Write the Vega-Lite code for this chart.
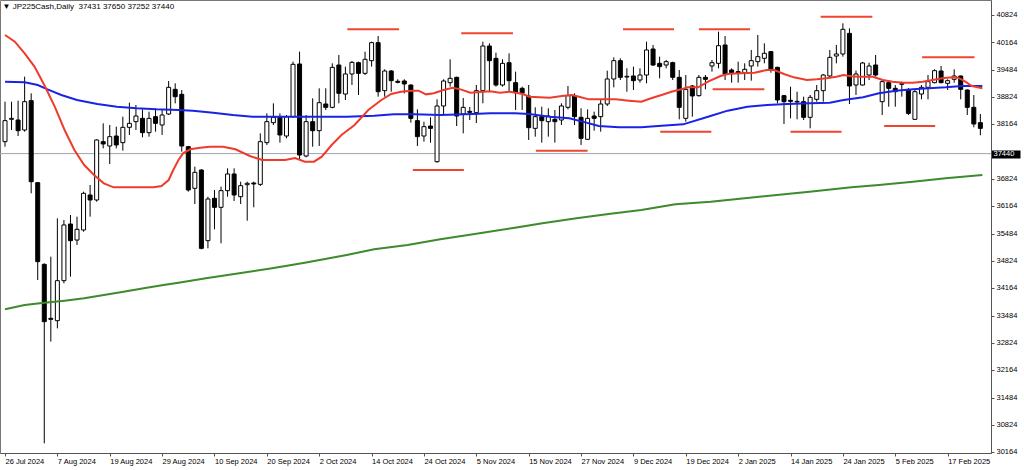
{
  "$schema": "https://vega.github.io/schema/vega-lite/v6.json",
  "width": 991,
  "height": 453,
  "autosize": {"type": "none"},
  "padding": {"left": 0, "top": 0, "right": 33, "bottom": 17},
  "background": "white",
  "title": {"text": "▼ JP225Cash,Daily\u00a0\u00a037431 37650 37252 37440", "anchor": "start", "orient": "top", "offset": -11, "dx": 3, "fontSize": 8, "fontWeight": "normal", "font": "Liberation Sans", "color": "#000"},
  "config": {"view": {"stroke": "#777"}},
  "resolve": {"axis": {"x": "independent", "y": "independent"}},
  "datasets": {
    "candles": [
      {"i":0,"o":37732,"h":38708,"l":37610,"c":38245},{"i":1,"o":38277,"h":38708,"l":38017,"c":38301},{"i":2,"o":38261,"h":38733,"l":37870,"c":38000},{"i":3,"o":38017,"h":39319,"l":37976,"c":38708},{"i":4,"o":38733,"h":38912,"l":36471,"c":36755},{"i":5,"o":36731,"h":36740,"l":34355,"c":34803},{"i":6,"o":34737,"h":34762,"l":30368,"c":33338},{"i":7,"o":33419,"h":34925,"l":32850,"c":33395},{"i":8,"o":33362,"h":35860,"l":33175,"c":34339},{"i":9,"o":34339,"h":35820,"l":34274,"c":35698},
      {"i":10,"o":35722,"h":35942,"l":34436,"c":35315},{"i":11,"o":35331,"h":35901,"l":35209,"c":35592},{"i":12,"o":35576,"h":36511,"l":35535,"c":36471},{"i":13,"o":36430,"h":36674,"l":35901,"c":36308},{"i":14,"o":36308,"h":37789,"l":36267,"c":37773},{"i":15,"o":37732,"h":38179,"l":37569,"c":37675},{"i":16,"o":37626,"h":38139,"l":37187,"c":37854},{"i":17,"o":37870,"h":38098,"l":37569,"c":37651},{"i":18,"o":37708,"h":38342,"l":37512,"c":38082},{"i":19,"o":38082,"h":38684,"l":37895,"c":38179},
      {"i":20,"o":38220,"h":38627,"l":38017,"c":38358},{"i":21,"o":38301,"h":38521,"l":37838,"c":37952},{"i":22,"o":37952,"h":38464,"l":37854,"c":38301},{"i":23,"o":38342,"h":38546,"l":37976,"c":38179},{"i":24,"o":38139,"h":38505,"l":37895,"c":38383},{"i":25,"o":38407,"h":39213,"l":38383,"c":39058},{"i":26,"o":39009,"h":39156,"l":38668,"c":38830},{"i":27,"o":38887,"h":38993,"l":37488,"c":37626},{"i":28,"o":37610,"h":37626,"l":36511,"c":36552},{"i":29,"o":36593,"h":37122,"l":36210,"c":36983},
      {"i":30,"o":37040,"h":37057,"l":35104,"c":35128},{"i":31,"o":35315,"h":36389,"l":35128,"c":36332},{"i":32,"o":36349,"h":36552,"l":35592,"c":36129},{"i":33,"o":36129,"h":36633,"l":35250,"c":36536},{"i":34,"o":36536,"h":37081,"l":36389,"c":36943},{"i":35,"o":36943,"h":37081,"l":36284,"c":36430},{"i":36,"o":36389,"h":36755,"l":36210,"c":36658},{"i":37,"o":36682,"h":36755,"l":35803,"c":36715},{"i":38,"o":36723,"h":36755,"l":36129,"c":36699},{"i":39,"o":36690,"h":37935,"l":36650,"c":37732},
      {"i":40,"o":37708,"h":38423,"l":37651,"c":38220},{"i":41,"o":38196,"h":38668,"l":38139,"c":38326},{"i":42,"o":38326,"h":38423,"l":37708,"c":37895},{"i":43,"o":37870,"h":38383,"l":37813,"c":38342},{"i":44,"o":38342,"h":39685,"l":38326,"c":39620},{"i":45,"o":39628,"h":39929,"l":37301,"c":37406},{"i":46,"o":37382,"h":38383,"l":37349,"c":38220},{"i":47,"o":38220,"h":38790,"l":37610,"c":38000},{"i":48,"o":38000,"h":39034,"l":37626,"c":38684},{"i":49,"o":38651,"h":39034,"l":38505,"c":38570},
      {"i":50,"o":38570,"h":39644,"l":38546,"c":39546},{"i":51,"o":39603,"h":39848,"l":38668,"c":38912},{"i":52,"o":38895,"h":39563,"l":38749,"c":39384},{"i":53,"o":39384,"h":39701,"l":39115,"c":39668},{"i":54,"o":39660,"h":39685,"l":38871,"c":39400},{"i":55,"o":39400,"h":39929,"l":39359,"c":39742},{"i":56,"o":39709,"h":40173,"l":39563,"c":40149},{"i":57,"o":40149,"h":40311,"l":38830,"c":38952},{"i":58,"o":38977,"h":39498,"l":38830,"c":39457},{"i":59,"o":39457,"h":39481,"l":38952,"c":39221},
      {"i":60,"o":39205,"h":39254,"l":39156,"c":39180},{"i":61,"o":39213,"h":39254,"l":38912,"c":39140},{"i":62,"o":39115,"h":39131,"l":38196,"c":38301},{"i":63,"o":38245,"h":38521,"l":37626,"c":37854},{"i":64,"o":37870,"h":38220,"l":37732,"c":38098},{"i":65,"o":38114,"h":38326,"l":37708,"c":38057},{"i":66,"o":37244,"h":38765,"l":37219,"c":38603},{"i":67,"o":38603,"h":39254,"l":38383,"c":39213},{"i":68,"o":39172,"h":39742,"l":39075,"c":39278},{"i":69,"o":39302,"h":39319,"l":38114,"c":38358},
      {"i":70,"o":38407,"h":38798,"l":37935,"c":38570},{"i":71,"o":38472,"h":38578,"l":38261,"c":38448},{"i":72,"o":38440,"h":39115,"l":38188,"c":38977},{"i":73,"o":38977,"h":40173,"l":38668,"c":40067},{"i":74,"o":40067,"h":40132,"l":38952,"c":39709},{"i":75,"o":39766,"h":39904,"l":39075,"c":39115},{"i":76,"o":39115,"h":39742,"l":39075,"c":39644},{"i":77,"o":39660,"h":39888,"l":38952,"c":39221},{"i":78,"o":39172,"h":39441,"l":38505,"c":38928},{"i":79,"o":39034,"h":39075,"l":38505,"c":38912},
      {"i":80,"o":38847,"h":39115,"l":37773,"c":38074},{"i":81,"o":38057,"h":38570,"l":37854,"c":38342},{"i":82,"o":38342,"h":38586,"l":37708,"c":38245},{"i":83,"o":38220,"h":38546,"l":37854,"c":38358},{"i":84,"o":38277,"h":38505,"l":37708,"c":38220},{"i":85,"o":38261,"h":38668,"l":38139,"c":38603},{"i":86,"o":38570,"h":39091,"l":38521,"c":38855},{"i":87,"o":38855,"h":38912,"l":38139,"c":38342},{"i":88,"o":38326,"h":38546,"l":37651,"c":37813},{"i":89,"o":37789,"h":38521,"l":37773,"c":38301},
      {"i":90,"o":38358,"h":38464,"l":38000,"c":38301},{"i":91,"o":38342,"h":38749,"l":37976,"c":38651},{"i":92,"o":38651,"h":39465,"l":38603,"c":39262},{"i":93,"o":39262,"h":39790,"l":39058,"c":39709},{"i":94,"o":39709,"h":39766,"l":39237,"c":39302},{"i":95,"o":39310,"h":39522,"l":38952,"c":39327},{"i":96,"o":39335,"h":39563,"l":38993,"c":39221},{"i":97,"o":39237,"h":39522,"l":39172,"c":39359},{"i":98,"o":39359,"h":40173,"l":39156,"c":39970},{"i":99,"o":39994,"h":40092,"l":39579,"c":39603},
      {"i":100,"o":39644,"h":39807,"l":39278,"c":39563},{"i":101,"o":39603,"h":39725,"l":39522,"c":39685},{"i":102,"o":39660,"h":39685,"l":39237,"c":39302},{"i":103,"o":39302,"h":39481,"l":38277,"c":38570},{"i":104,"o":38301,"h":39359,"l":38220,"c":39009},{"i":105,"o":39091,"h":39115,"l":38342,"c":38847},{"i":106,"o":38855,"h":39359,"l":38830,"c":39302},{"i":107,"o":39302,"h":39359,"l":39009,"c":39254},{"i":108,"o":39579,"h":39725,"l":39441,"c":39660},{"i":109,"o":39644,"h":40417,"l":39522,"c":40075},
      {"i":110,"o":40092,"h":40311,"l":39237,"c":39384},{"i":111,"o":39481,"h":39522,"l":39172,"c":39416},{"i":112,"o":39441,"h":39685,"l":39172,"c":39408},{"i":113,"o":39416,"h":39644,"l":39237,"c":39498},{"i":114,"o":39579,"h":39970,"l":39221,"c":39709},{"i":115,"o":39685,"h":40336,"l":39563,"c":39807},{"i":116,"o":39766,"h":40132,"l":39644,"c":39888},{"i":117,"o":39929,"h":39945,"l":39416,"c":39481},{"i":118,"o":39546,"h":39563,"l":38668,"c":38749},{"i":119,"o":38855,"h":38871,"l":38163,"c":38708},
      {"i":120,"o":38741,"h":39075,"l":38301,"c":38716},{"i":121,"o":38700,"h":38952,"l":38277,"c":38716},{"i":122,"o":38708,"h":38830,"l":38261,"c":38326},{"i":123,"o":38326,"h":38871,"l":38057,"c":38814},{"i":124,"o":38765,"h":39115,"l":38708,"c":38977},{"i":125,"o":38977,"h":39384,"l":38708,"c":39359},{"i":126,"o":39335,"h":39970,"l":39278,"c":39790},{"i":127,"o":39823,"h":40092,"l":39644,"c":39872},{"i":128,"o":39872,"h":40621,"l":39807,"c":40474},{"i":129,"o":40376,"h":40498,"l":38651,"c":39091},
      {"i":130,"o":39115,"h":39465,"l":38871,"c":39384},{"i":131,"o":39115,"h":39680,"l":39100,"c":39652},{"i":132,"o":39359,"h":39660,"l":39237,"c":39579},{"i":133,"o":39603,"h":39848,"l":39319,"c":39359},{"i":134,"o":38708,"h":39237,"l":38383,"c":39196},{"i":135,"o":39172,"h":39237,"l":38586,"c":39034},{"i":136,"o":39034,"h":39115,"l":38586,"c":38952},{"i":137,"o":39131,"h":39196,"l":38830,"c":39148},{"i":138,"o":38993,"h":39042,"l":38383,"c":38423},{"i":139,"o":38277,"h":38993,"l":38261,"c":38952},
      {"i":140,"o":38895,"h":39115,"l":38765,"c":39058},{"i":141,"o":39058,"h":39359,"l":38765,"c":39196},{"i":142,"o":39172,"h":39498,"l":39156,"c":39465},{"i":143,"o":39457,"h":39579,"l":39156,"c":39172},{"i":144,"o":39156,"h":39254,"l":38993,"c":39221},{"i":145,"o":39254,"h":39498,"l":39172,"c":39335},{"i":146,"o":39335,"h":39345,"l":38765,"c":39009},{"i":147,"o":38993,"h":39009,"l":38383,"c":38570},{"i":148,"o":38570,"h":38871,"l":38082,"c":38163},{"i":149,"o":38196,"h":38407,"l":37887,"c":38057}
    ],
    "red": [
      {"i":0,"v":40336},{"i":1.5,"v":40173},{"i":3.0,"v":39888},{"i":4.5,"v":39563},{"i":6.0,"v":39115},{"i":7.6,"v":38586},{"i":9.1,"v":38017},{"i":10.6,"v":37528},{"i":12.1,"v":37162},{"i":13.6,"v":36918},{"i":15.1,"v":36715},{"i":16.6,"v":36617},{"i":19.7,"v":36617},{"i":22.7,"v":36617},{"i":23.9,"v":36650},{"i":25.0,"v":36796},{"i":25.7,"v":37040},{"i":26.5,"v":37284},{"i":27.2,"v":37447},{"i":28.3,"v":37545},{"i":29.8,"v":37585},{"i":31.3,"v":37610},{"i":33.3,"v":37610},{"i":35.2,"v":37545},{"i":37.4,"v":37382},{"i":39.3,"v":37284},{"i":42.8,"v":37284},{"i":44.3,"v":37330},{"i":45.8,"v":37244},{"i":47.2,"v":37244},{"i":48.4,"v":37366},{"i":49.9,"v":37650},{"i":51.4,"v":37895},{"i":53.4,"v":38139},{"i":55.5,"v":38505},{"i":57.5,"v":38749},{"i":59.0,"v":38895},{"i":60.5,"v":38952},{"i":62.0,"v":38977},{"i":63.2,"v":38977},{"i":64.3,"v":38887},{"i":65.5,"v":38912},{"i":67.0,"v":38993},{"i":68.4,"v":39050},{"i":69.6,"v":39009},{"i":71.1,"v":38928},{"i":72.6,"v":38944},{"i":74.1,"v":38960},{"i":75.6,"v":38928},{"i":77.1,"v":38952},{"i":79.1,"v":38895},{"i":80.1,"v":38830},{"i":83.2,"v":38806},{"i":85.1,"v":38847},{"i":86.6,"v":38871},{"i":87.7,"v":38830},{"i":89.2,"v":38765},{"i":91.2,"v":38765},{"i":93.3,"v":38765},{"i":95.3,"v":38733},{"i":97.2,"v":38708},{"i":98.7,"v":38790},{"i":100.3,"v":38871},{"i":101.8,"v":38952},{"i":103.3,"v":39009},{"i":104.3,"v":39058},{"i":105.9,"v":39058},{"i":107.4,"v":39196},{"i":109.3,"v":39335},{"i":110.4,"v":39384},{"i":112.4,"v":39400},{"i":114.5,"v":39416},{"i":116.4,"v":39481},{"i":117.5,"v":39481},{"i":119.0,"v":39384},{"i":120.5,"v":39302},{"i":122.5,"v":39237},{"i":124.0,"v":39253},{"i":125.5,"v":39278},{"i":127.0,"v":39318},{"i":128.1,"v":39359},{"i":129.3,"v":39327},{"i":130.5,"v":39318},{"i":132.6,"v":39318},{"i":134.1,"v":39237},{"i":135.6,"v":39196},{"i":137.2,"v":39172},{"i":138.7,"v":39172},{"i":140.2,"v":39196},{"i":141.7,"v":39237},{"i":143.2,"v":39278},{"i":144.7,"v":39302},{"i":145.6,"v":39294},{"i":146.7,"v":39196},{"i":147.7,"v":39091},{"i":149.3,"v":39034}
    ],
    "blue": [
      {"i":0,"v":39196},{"i":3.0,"v":39180},{"i":5.0,"v":39115},{"i":6.5,"v":39009},{"i":8.6,"v":38871},{"i":11.0,"v":38749},{"i":14.1,"v":38651},{"i":17.1,"v":38586},{"i":20.1,"v":38546},{"i":23.1,"v":38521},{"i":26.5,"v":38505},{"i":28.7,"v":38489},{"i":31.8,"v":38440},{"i":34.8,"v":38383},{"i":37.8,"v":38342},{"i":43.9,"v":38342},{"i":52.2,"v":38342},{"i":56.4,"v":38367},{"i":59.4,"v":38399},{"i":62.5,"v":38399},{"i":66.5,"v":38383},{"i":71.5,"v":38407},{"i":74.1,"v":38423},{"i":77.9,"v":38423},{"i":80.1,"v":38407},{"i":83.2,"v":38342},{"i":86.2,"v":38301},{"i":88.8,"v":38196},{"i":90.7,"v":38114},{"i":93.8,"v":38082},{"i":97.2,"v":38082},{"i":100.3,"v":38122},{"i":103.6,"v":38155},{"i":107.4,"v":38342},{"i":110.4,"v":38489},{"i":113.4,"v":38586},{"i":116.4,"v":38627},{"i":119.5,"v":38651},{"i":122.9,"v":38668},{"i":126.0,"v":38684},{"i":128.1,"v":38749},{"i":131.1,"v":38814},{"i":133.5,"v":38912},{"i":136.1,"v":38977},{"i":138.7,"v":39009},{"i":141.1,"v":39034},{"i":143.7,"v":39058},{"i":146.2,"v":39091},{"i":149.3,"v":39091}
    ],
    "green": [
      {"i":0,"v":33639},{"i":3.0,"v":33745},{"i":6.0,"v":33802},{"i":9.1,"v":33850},{"i":12.1,"v":33907},{"i":15.1,"v":33989},{"i":18.1,"v":34070},{"i":21.2,"v":34151},{"i":24.2,"v":34233},{"i":26.5,"v":34290},{"i":30.7,"v":34396},{"i":35.8,"v":34518},{"i":40.8,"v":34640},{"i":45.8,"v":34778},{"i":52.2,"v":34965},{"i":56.4,"v":35103},{"i":61.5,"v":35209},{"i":66.5,"v":35348},{"i":71.5,"v":35470},{"i":77.9,"v":35632},{"i":82.1,"v":35738},{"i":87.3,"v":35860},{"i":92.2,"v":35966},{"i":97.2,"v":36064},{"i":102.4,"v":36202},{"i":107.8,"v":36267},{"i":113.0,"v":36349},{"i":117.9,"v":36430},{"i":122.9,"v":36511},{"i":129.3,"v":36617},{"i":133.5,"v":36674},{"i":138.7,"v":36755},{"i":143.7,"v":36837},{"i":149.3,"v":36918}
    ],
    "levels": [
      {"s":52.3,"e":60.2,"p":40475},{"s":62.3,"e":70.1,"p":37040},{"s":69.7,"e":77.6,"p":40377},{"s":81.1,"e":89.0,"p":37511},{"s":94.4,"e":102.2,"p":40475},{"s":100.1,"e":107.9,"p":37975},{"s":106.0,"e":113.8,"p":40475},{"s":108.1,"e":116.0,"p":39010},{"s":120.0,"e":127.8,"p":37975},{"s":124.6,"e":132.5,"p":40782},{"s":134.3,"e":142.1,"p":38114},{"s":140.1,"e":148.1,"p":39791}
    ],
    "last": [{"p": 37440}]
  },
  "layer": [
    {
      "data": {"name": "last"},
      "mark": {"type": "rule", "color": "#9aa3ad", "strokeWidth": 1},
      "encoding": {
        "y": {"field": "p", "type": "quantitative", "scale": {"domain": [30132, 41190], "nice": false, "zero": false},
          "axis": {"orient": "right", "title": null, "values": [37440], "format": "d", "domain": false, "grid": false,
            "tickSize": 29, "tickWidth": 8, "tickColor": "#000", "labelColor": "#fff", "labelPadding": -27,
            "labelFontSize": 7.5, "labelFont": "Liberation Sans", "labelAlign": "left", "labelOverlap": false, "labelFlush": false, "labelBound": false}}
      }
    },
    {
      "data": {"name": "candles"},
      "mark": {"type": "rule", "color": "#000", "strokeWidth": 1, "clip": true},
      "encoding": {
        "x": {"field": "i", "type": "quantitative", "scale": {"domain": [0, 149.86], "nice": false, "zero": false},
          "axis": {"orient": "bottom", "title": null, "values": [0,8,16,24,32,40,48,56,64,72,80,88,96,104,112,120,128,136,144],
            "labelExpr": "['26 Jul 2024','7 Aug 2024','19 Aug 2024','29 Aug 2024','10 Sep 2024','20 Sep 2024','2 Oct 2024','14 Oct 2024','24 Oct 2024','5 Nov 2024','15 Nov 2024','27 Nov 2024','9 Dec 2024','19 Dec 2024','2 Jan 2025','14 Jan 2025','24 Jan 2025','5 Feb 2025','17 Feb 2025'][round(datum.value/8)]",
            "labelAlign": "left", "labelBaseline": "top", "labelPadding": 1, "tickSize": 3, "labelFontSize": 7.5, "labelFont": "Liberation Sans", "labelColor": "#000", "tickColor": "#555", "domainColor": "#555", "labelOverlap": false, "labelFlush": false, "labelBound": false, "grid": false}},
        "y": {"field": "l", "type": "quantitative", "scale": {"domain": [30132, 41190], "nice": false, "zero": false},
          "axis": {"orient": "right", "title": null, "values": [30164,30824,31484,32164,32824,33484,34164,34824,35484,36164,36824,38164,38824,39484,40164,40824], "format": "d",
            "labelFontSize": 7.5, "labelFont": "Liberation Sans", "labelAlign": "left", "labelColor": "#000",
            "tickColor": "#555", "tickSize": 3, "labelPadding": 2, "domainColor": "#555", "labelOverlap": false, "labelFlush": false, "labelBound": false, "grid": false}},
        "y2": {"field": "h"}
      }
    },
    {
      "data": {"name": "candles"},
      "mark": {"type": "bar", "orient": "vertical", "width": 4, "stroke": "#000", "strokeWidth": 1, "clip": true},
      "encoding": {
        "x": {"field": "i", "type": "quantitative", "scale": {"domain": [0, 149.86], "nice": false, "zero": false}, "axis": null},
        "y": {"field": "o", "type": "quantitative", "scale": {"domain": [30132, 41190], "nice": false, "zero": false}, "axis": null},
        "y2": {"field": "c"},
        "fill": {"condition": {"test": "datum.c < datum.o", "value": "#000"}, "value": "#fff"}
      }
    },
    {
      "data": {"name": "green"},
      "mark": {"type": "line", "color": "#3d8b2d", "strokeWidth": 2, "clip": true},
      "encoding": {
        "x": {"field": "i", "type": "quantitative", "scale": {"domain": [0, 149.86], "nice": false, "zero": false}, "axis": null},
        "y": {"field": "v", "type": "quantitative", "scale": {"domain": [30132, 41190], "nice": false, "zero": false}, "axis": null}
      }
    },
    {
      "data": {"name": "blue"},
      "mark": {"type": "line", "color": "#1a22e6", "strokeWidth": 2, "clip": true},
      "encoding": {
        "x": {"field": "i", "type": "quantitative", "scale": {"domain": [0, 149.86], "nice": false, "zero": false}, "axis": null},
        "y": {"field": "v", "type": "quantitative", "scale": {"domain": [30132, 41190], "nice": false, "zero": false}, "axis": null}
      }
    },
    {
      "data": {"name": "red"},
      "mark": {"type": "line", "color": "#ef3b2c", "strokeWidth": 2, "clip": true},
      "encoding": {
        "x": {"field": "i", "type": "quantitative", "scale": {"domain": [0, 149.86], "nice": false, "zero": false}, "axis": null},
        "y": {"field": "v", "type": "quantitative", "scale": {"domain": [30132, 41190], "nice": false, "zero": false}, "axis": null}
      }
    },
    {
      "data": {"name": "levels"},
      "mark": {"type": "rule", "color": "#ef4530", "strokeWidth": 2, "clip": true},
      "encoding": {
        "x": {"field": "s", "type": "quantitative", "scale": {"domain": [0, 149.86], "nice": false, "zero": false}, "axis": null},
        "x2": {"field": "e"},
        "y": {"field": "p", "type": "quantitative", "scale": {"domain": [30132, 41190], "nice": false, "zero": false}, "axis": null}
      }
    }
  ]
}
